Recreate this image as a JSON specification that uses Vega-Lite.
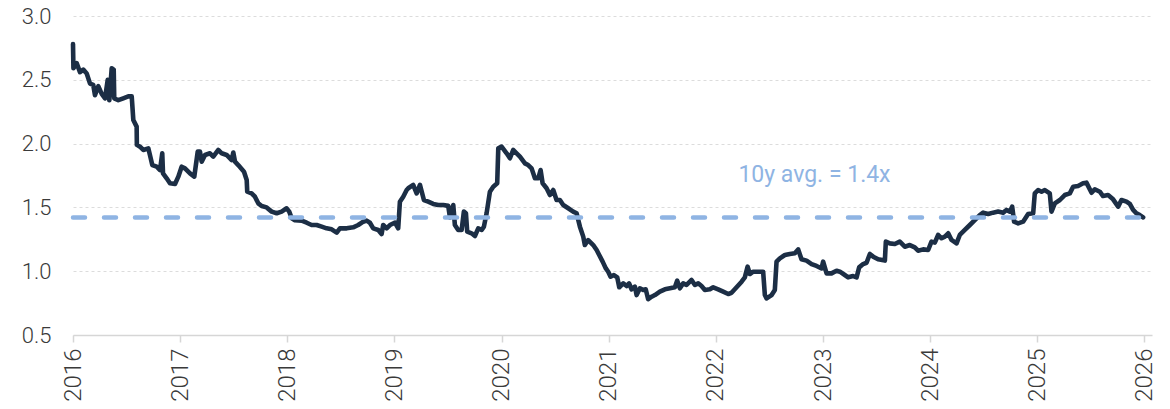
{
  "$schema": "https://vega.github.io/schema/vega-lite/v6.json",
  "autosize": {"type": "none"},
  "width": 1079,
  "height": 319,
  "padding": {"left": 73, "top": 16, "right": 18, "bottom": 74},
  "background": "white",
  "config": {
    "view": {"stroke": null},
    "font": "Roboto"
  },
  "datasets": {
    "series": [
      {"t":2016.000,"v":2.78},{"t":2016.004,"v":2.59},{"t":2016.035,"v":2.63},{"t":2016.065,"v":2.56},{"t":2016.096,"v":2.58},{"t":2016.128,"v":2.55},{"t":2016.159,"v":2.47},{"t":2016.189,"v":2.46},{"t":2016.205,"v":2.38},{"t":2016.236,"v":2.45},{"t":2016.268,"v":2.39},{"t":2016.299,"v":2.355},{"t":2016.324,"v":2.50},{"t":2016.339,"v":2.34},{"t":2016.361,"v":2.59},{"t":2016.380,"v":2.58},{"t":2016.385,"v":2.355},{"t":2016.423,"v":2.34},{"t":2016.469,"v":2.355},{"t":2016.516,"v":2.37},{"t":2016.548,"v":2.37},{"t":2016.563,"v":2.185},{"t":2016.594,"v":2.133},{"t":2016.596,"v":1.99},{"t":2016.625,"v":1.976},{"t":2016.656,"v":1.95},{"t":2016.703,"v":1.963},{"t":2016.718,"v":1.911},{"t":2016.740,"v":1.832},{"t":2016.781,"v":1.819},{"t":2016.812,"v":1.793},{"t":2016.833,"v":1.924},{"t":2016.840,"v":1.767},{"t":2016.874,"v":1.728},{"t":2016.905,"v":1.689},{"t":2016.952,"v":1.683},{"t":2016.983,"v":1.741},{"t":2017.014,"v":1.819},{"t":2017.045,"v":1.806},{"t":2017.092,"v":1.767},{"t":2017.132,"v":1.741},{"t":2017.164,"v":1.937},{"t":2017.185,"v":1.937},{"t":2017.201,"v":1.858},{"t":2017.232,"v":1.911},{"t":2017.278,"v":1.924},{"t":2017.309,"v":1.898},{"t":2017.356,"v":1.95},{"t":2017.388,"v":1.924},{"t":2017.434,"v":1.911},{"t":2017.481,"v":1.871},{"t":2017.496,"v":1.93},{"t":2017.512,"v":1.858},{"t":2017.542,"v":1.832},
      {"t":2017.596,"v":1.78},{"t":2017.621,"v":1.715},{"t":2017.626,"v":1.623},{"t":2017.667,"v":1.61},{"t":2017.698,"v":1.584},{"t":2017.729,"v":1.532},{"t":2017.761,"v":1.511},{"t":2017.807,"v":1.50},{"t":2017.854,"v":1.467},{"t":2017.901,"v":1.454},{"t":2017.947,"v":1.467},{"t":2017.994,"v":1.493},{"t":2018.018,"v":1.467},{"t":2018.041,"v":1.415},{"t":2018.071,"v":1.40},{"t":2018.134,"v":1.396},{"t":2018.181,"v":1.38},{"t":2018.227,"v":1.362},{"t":2018.274,"v":1.362},{"t":2018.321,"v":1.349},{"t":2018.367,"v":1.336},{"t":2018.414,"v":1.328},{"t":2018.461,"v":1.302},{"t":2018.491,"v":1.336},{"t":2018.554,"v":1.336},{"t":2018.615,"v":1.344},{"t":2018.662,"v":1.362},{"t":2018.709,"v":1.388},{"t":2018.741,"v":1.396},{"t":2018.771,"v":1.38},{"t":2018.802,"v":1.336},{"t":2018.849,"v":1.323},{"t":2018.880,"v":1.291},{"t":2018.895,"v":1.362},{"t":2018.927,"v":1.336},{"t":2018.958,"v":1.362},{"t":2019.005,"v":1.38},{"t":2019.035,"v":1.336},{"t":2019.051,"v":1.545},{"t":2019.082,"v":1.584},{"t":2019.114,"v":1.636},{"t":2019.129,"v":1.65},{"t":2019.175,"v":1.676},{"t":2019.207,"v":1.61},
      {"t":2019.238,"v":1.676},{"t":2019.275,"v":1.558},{"t":2019.315,"v":1.545},{"t":2019.362,"v":1.527},{"t":2019.409,"v":1.519},{"t":2019.455,"v":1.519},{"t":2019.502,"v":1.512},{"t":2019.518,"v":1.422},{"t":2019.549,"v":1.519},{"t":2019.564,"v":1.362},{"t":2019.595,"v":1.323},{"t":2019.627,"v":1.323},{"t":2019.648,"v":1.467},{"t":2019.667,"v":1.454},{"t":2019.679,"v":1.31},{"t":2019.720,"v":1.297},{"t":2019.751,"v":1.276},{"t":2019.782,"v":1.336},{"t":2019.814,"v":1.323},{"t":2019.835,"v":1.349},{"t":2019.860,"v":1.454},{"t":2019.891,"v":1.623},{"t":2019.922,"v":1.662},{"t":2019.959,"v":1.689},{"t":2019.969,"v":1.963},{"t":2020.000,"v":1.976},{"t":2020.047,"v":1.924},{"t":2020.078,"v":1.885},{"t":2020.108,"v":1.95},{"t":2020.140,"v":1.924},{"t":2020.171,"v":1.898},{"t":2020.218,"v":1.845},{"t":2020.248,"v":1.832},{"t":2020.280,"v":1.806},{"t":2020.311,"v":1.728},{"t":2020.342,"v":1.728},{"t":2020.364,"v":1.793},{"t":2020.383,"v":1.689},{"t":2020.420,"v":1.65},{"t":2020.451,"v":1.597},{"t":2020.482,"v":1.636},{"t":2020.513,"v":1.558},{"t":2020.544,"v":1.558},{"t":2020.575,"v":1.519},{"t":2020.622,"v":1.493},{"t":2020.668,"v":1.467},{"t":2020.700,"v":1.454},{"t":2020.731,"v":1.349},{"t":2020.762,"v":1.271},{"t":2020.777,"v":1.205},{"t":2020.808,"v":1.244},
      {"t":2020.855,"v":1.205},{"t":2020.887,"v":1.166},{"t":2020.911,"v":1.127},{"t":2020.943,"v":1.075},{"t":2020.973,"v":1.022},{"t":2020.995,"v":0.996},{"t":2021.017,"v":0.957},{"t":2021.048,"v":0.97},{"t":2021.079,"v":0.952},{"t":2021.098,"v":0.874},{"t":2021.135,"v":0.905},{"t":2021.167,"v":0.884},{"t":2021.190,"v":0.905},{"t":2021.213,"v":0.858},{"t":2021.244,"v":0.879},{"t":2021.260,"v":0.813},{"t":2021.291,"v":0.866},{"t":2021.321,"v":0.853},{"t":2021.345,"v":0.858},{"t":2021.368,"v":0.78},{"t":2021.400,"v":0.80},{"t":2021.431,"v":0.813},{"t":2021.477,"v":0.84},{"t":2021.524,"v":0.858},{"t":2021.571,"v":0.866},{"t":2021.617,"v":0.874},{"t":2021.639,"v":0.926},{"t":2021.664,"v":0.866},{"t":2021.695,"v":0.905},{"t":2021.726,"v":0.892},{"t":2021.757,"v":0.918},{"t":2021.773,"v":0.931},{"t":2021.804,"v":0.892},{"t":2021.835,"v":0.905},{"t":2021.866,"v":0.884},{"t":2021.897,"v":0.853},{"t":2021.944,"v":0.858},{"t":2021.975,"v":0.874},{"t":2022.021,"v":0.858},{"t":2022.068,"v":0.84},{"t":2022.115,"v":0.821},{"t":2022.146,"v":0.831},{"t":2022.193,"v":0.874},{"t":2022.240,"v":0.918},{"t":2022.270,"v":0.952},{"t":2022.296,"v":1.036},{"t":2022.317,"v":0.978},{"t":2022.348,"v":0.996},{"t":2022.395,"v":0.996},{"t":2022.441,"v":0.996},{"t":2022.457,"v":0.813},{"t":2022.473,"v":0.787},{"t":2022.520,"v":0.813},{"t":2022.550,"v":0.853},{"t":2022.566,"v":1.075},
      {"t":2022.597,"v":1.101},{"t":2022.644,"v":1.127},{"t":2022.690,"v":1.135},{"t":2022.737,"v":1.14},{"t":2022.768,"v":1.171},{"t":2022.799,"v":1.093},{"t":2022.846,"v":1.083},{"t":2022.893,"v":1.056},{"t":2022.939,"v":1.041},{"t":2022.986,"v":1.022},{"t":2023.001,"v":1.075},{"t":2023.033,"v":0.983},{"t":2023.079,"v":0.983},{"t":2023.126,"v":1.004},{"t":2023.157,"v":0.996},{"t":2023.203,"v":0.97},{"t":2023.234,"v":0.952},{"t":2023.281,"v":0.962},{"t":2023.313,"v":0.952},{"t":2023.337,"v":1.03},{"t":2023.374,"v":1.056},{"t":2023.406,"v":1.066},{"t":2023.437,"v":1.135},{"t":2023.468,"v":1.114},{"t":2023.514,"v":1.093},{"t":2023.577,"v":1.083},{"t":2023.586,"v":1.232},{"t":2023.623,"v":1.218},{"t":2023.670,"v":1.213},{"t":2023.716,"v":1.232},{"t":2023.763,"v":1.192},{"t":2023.810,"v":1.205},{"t":2023.856,"v":1.187},{"t":2023.887,"v":1.161},{"t":2023.934,"v":1.171},{"t":2023.981,"v":1.166},{"t":2024.012,"v":1.232},{"t":2024.043,"v":1.224},{"t":2024.074,"v":1.284},{"t":2024.106,"v":1.258},{"t":2024.137,"v":1.271},{"t":2024.168,"v":1.297},{"t":2024.199,"v":1.245},
      {"t":2024.246,"v":1.218},{"t":2024.276,"v":1.284},{"t":2024.323,"v":1.323},{"t":2024.370,"v":1.362},{"t":2024.416,"v":1.401},{"t":2024.463,"v":1.44},{"t":2024.494,"v":1.459},{"t":2024.541,"v":1.448},{"t":2024.587,"v":1.459},{"t":2024.634,"v":1.467},{"t":2024.681,"v":1.459},{"t":2024.712,"v":1.48},{"t":2024.743,"v":1.467},{"t":2024.765,"v":1.506},{"t":2024.783,"v":1.388},{"t":2024.821,"v":1.375},{"t":2024.867,"v":1.388},{"t":2024.914,"v":1.448},{"t":2024.961,"v":1.454},{"t":2024.976,"v":1.61},{"t":2025.007,"v":1.636},{"t":2025.039,"v":1.623},{"t":2025.070,"v":1.636},{"t":2025.116,"v":1.61},{"t":2025.132,"v":1.467},{"t":2025.163,"v":1.532},{"t":2025.210,"v":1.558},{"t":2025.256,"v":1.597},{"t":2025.303,"v":1.61},{"t":2025.334,"v":1.662},{"t":2025.380,"v":1.668},{"t":2025.427,"v":1.689},{"t":2025.458,"v":1.694},{"t":2025.506,"v":1.615},{"t":2025.536,"v":1.642},{"t":2025.583,"v":1.623},{"t":2025.613,"v":1.589},{"t":2025.660,"v":1.597},{"t":2025.707,"v":1.563},{"t":2025.754,"v":1.506},{"t":2025.785,"v":1.558},{"t":2025.832,"v":1.545},{"t":2025.863,"v":1.527},{"t":2025.894,"v":1.48},{"t":2025.925,"v":1.454},{"t":2025.956,"v":1.44},{"t":2025.987,"v":1.422}
    ],
    "avg": [{"t0": 2016, "t1": 2025.99, "v": 1.42}],
    "note": [{"t": 2022.92, "v": 1.70, "label": "10y avg. = 1.4x"}]
  },
  "layer": [
    {
      "data": {"name": "series"},
      "mark": {"type": "line", "color": "#1c2e45", "strokeWidth": 4.6, "strokeJoin": "round", "strokeCap": "round"},
      "encoding": {
        "x": {
          "field": "t", "type": "quantitative",
          "scale": {"domain": [2016, 2026.07], "nice": false, "zero": false},
          "axis": {
            "title": null,
            "values": [2016,2017,2018,2019,2020,2021,2022,2023,2024,2025,2026],
            "format": "d",
            "labelAngle": -90,
            "labelFontSize": 24,
            "labelFont": "Roboto",
            "labelFontWeight": 300,
            "labelColor": "#3a3a3a",
            "labelPadding": 6,
            "labelFlush": false,
            "labelOverlap": false,
            "grid": false,
            "domainColor": "#d6d6d6",
            "domainWidth": 1.5,
            "tickColor": "#d6d6d6",
            "tickWidth": 1.5,
            "tickSize": 7
          }
        },
        "y": {
          "field": "v", "type": "quantitative",
          "scale": {"domain": [0.5, 3.0], "nice": false, "zero": false},
          "axis": {
            "title": null,
            "values": [0.5,1.0,1.5,2.0,2.5,3.0],
            "format": ".1f",
            "domain": false,
            "ticks": false,
            "labelFontSize": 22,
            "labelFont": "Roboto",
            "labelFontWeight": 300,
            "labelColor": "#3a3a3a",
            "labelPadding": 22,
            "grid": true,
            "gridColor": "#dcdcdc",
            "gridDash": [3, 3],
            "gridWidth": 1
          }
        }
      }
    },
    {
      "data": {"name": "avg"},
      "mark": {"type": "rule", "color": "#8fb4e3", "strokeWidth": 4.5, "strokeDash": [12, 19], "strokeCap": "round"},
      "encoding": {
        "x": {"field": "t0", "type": "quantitative"},
        "x2": {"field": "t1"},
        "y": {"field": "v", "type": "quantitative"}
      }
    },
    {
      "data": {"name": "note"},
      "mark": {"type": "text", "color": "#8fb4e3", "fontSize": 23, "font": "Roboto", "fontWeight": 400, "align": "center", "baseline": "alphabetic"},
      "encoding": {
        "x": {"field": "t", "type": "quantitative"},
        "y": {"field": "v", "type": "quantitative"},
        "text": {"field": "label"}
      }
    }
  ]
}
